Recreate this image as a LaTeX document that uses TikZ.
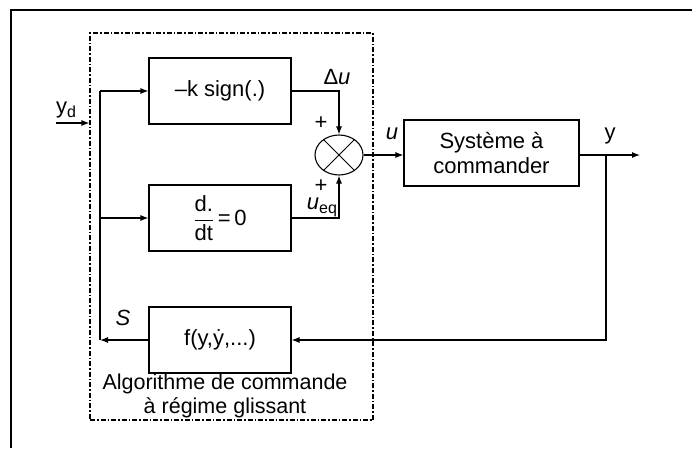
\documentclass[tikz,border=0pt]{standalone}
\usepackage{amsmath}
\usepackage{fontspec}
\setmainfont{Liberation Sans}
\usetikzlibrary{calc, positioning, arrows.meta, shapes.geometric}

\begin{document}
\begin{tikzpicture}[x=1pt, y=-1pt, line width=1.1pt,
  font=\fontsize{22}{26}\selectfont,
  block/.style={draw, minimum width=142, minimum height=66, inner sep=0pt},
  sig/.style={-{Latex[length=8pt, width=6pt]}},
  algobox/.style={draw, dash pattern=on 5pt off 2pt on 1.5pt off 2pt, minimum width=283, minimum height=387, inner sep=0pt}]
  \useasboundingbox (0,0) rectangle (692,448);
  \draw[line width=2pt] (11,448) -- (11,10) -- (692,10);

  \node[algobox] (algo) at (231.5,226.5) {};
  \node[block] (ksign) at (220,91) {\textendash k sign(.)};
  \node[block] (deriv) at (220,218) {$\dfrac{\text{d.}}{\text{dt}}$\,=\,0};
  \node[block] (fbox) at (220,340) {f(y,\.{y},...)};
  \node[draw, ellipse, minimum width=48, minimum height=40, inner sep=0pt] (sum) at (339,155) {};
  \draw[line width=0.8pt] (sum.45) -- (sum.225) (sum.135) -- (sum.315);
  \node[block, minimum width=175, align=center, font=\fontsize{22}{25}\selectfont] (sys) at (491.5,153) {Système à\\commander};

  \coordinate (ydIn) at (56,123);
  \coordinate (trunkTop) at (100,91);
  \coordinate (trunkMid) at (100,218);
  \coordinate (trunkBot) at (100,340);
  \coordinate (ybranch) at (606,155);
  \coordinate (yOut) at (640,155);

  \draw[sig] (ydIn) -- (ydIn -| algo.west);
  \draw[sig] (fbox.west) -- (trunkBot);
  \draw (trunkBot) -- (trunkTop);
  \draw[sig] (trunkTop) -- (ksign.west);
  \draw[sig] (trunkMid) -- (deriv.west);
  \draw[sig] (ksign.east) -| (sum.north);
  \draw[sig] (deriv.east) -| (sum.south);
  \draw[sig] (sum.east) -- (sum.east -| sys.west);
  \draw (sys.east |- ybranch) -- (ybranch);
  \draw[sig] (ybranch) -- (yOut);
  \draw[sig] (ybranch) |- (fbox.east);

  \node (ydLbl) at (66,110) {y\raisebox{-0.35ex}{\fontsize{16}{16}\selectfont d}};
  \node (duLbl) at (337,77) {Δ\textit{u}};
  \node (plusA) at (321,123) {+};
  \node (plusB) at (321,186) {+};
  \node (ueqLbl) at (322,207) {\textit{u}\raisebox{-0.35ex}{\fontsize{16}{16}\selectfont eq}};
  \node (uLbl) at (392,134) {\textit{u}};
  \node (yLbl) at (610,136) {y};
  \node (sLbl) at (123,318) {\textit{S}};
  \node[align=center, font=\fontsize{21.5}{24}\selectfont] (caption) at (225,396) {Algorithme de commande\\à régime glissant};
\end{tikzpicture}
\end{document}
